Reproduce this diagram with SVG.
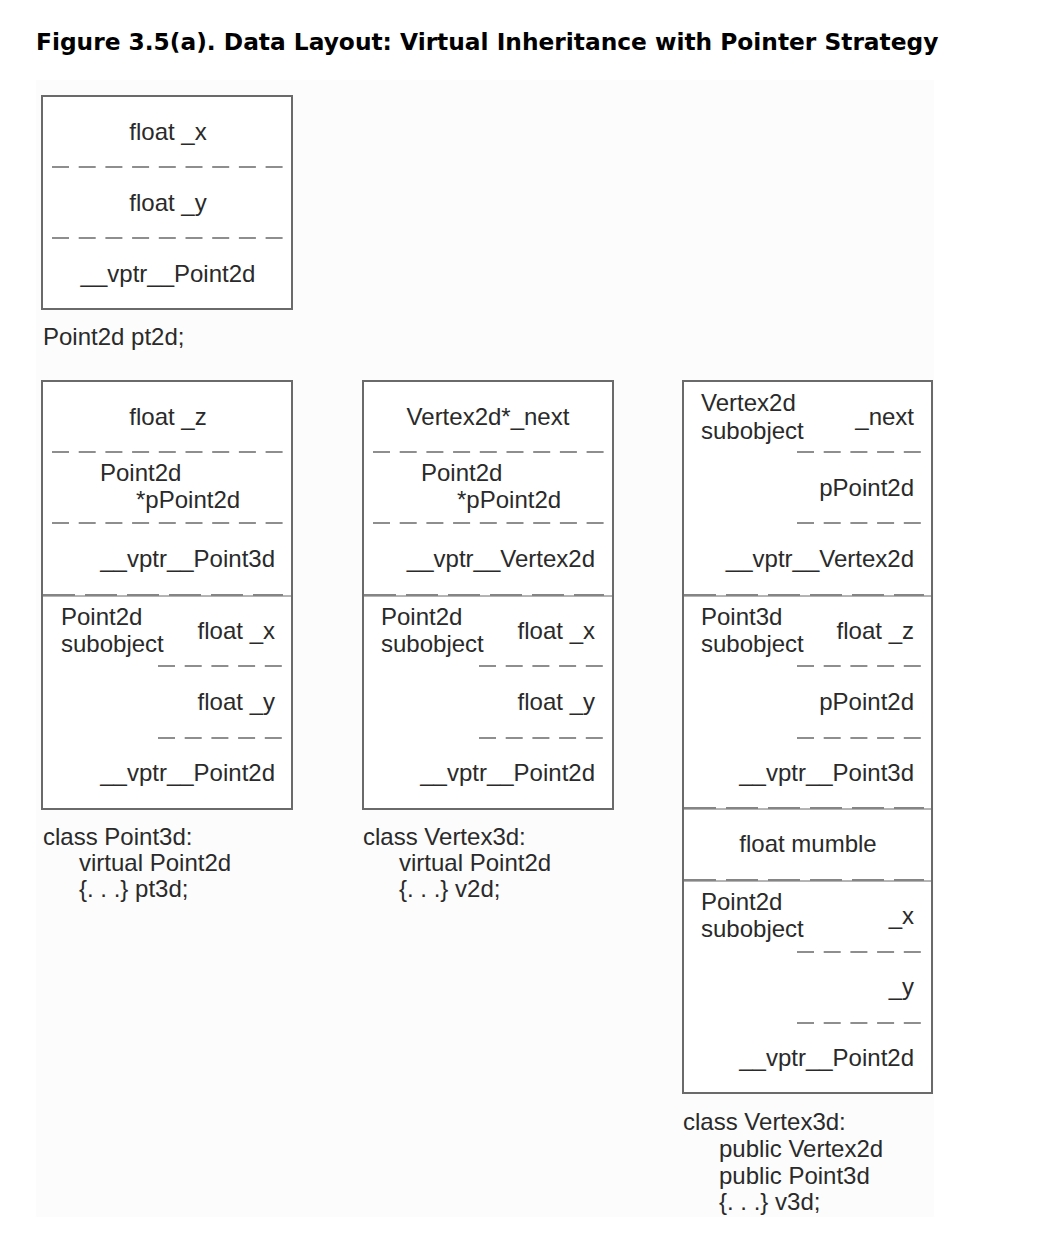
<svg xmlns="http://www.w3.org/2000/svg" width="1044" height="1248" viewBox="0 0 1044 1248">
<style>
.t{font-family:"Liberation Sans",Arial,sans-serif;font-size:24px;fill:#2a2a2a}
.m{text-anchor:middle}
.e{text-anchor:end}
.title{font-family:"DejaVu Sans",Verdana,sans-serif;font-weight:bold;font-size:23.3px;fill:#000}
.box{fill:#fff;stroke:#6a6a6a;stroke-width:2}
.d{stroke:#8e8e8e;stroke-width:2.2;stroke-dasharray:17 9.7;fill:none}
.sep{stroke:#6a6a6a;stroke-width:1;fill:none}
.sd{stroke:#858585;stroke-width:2.2;stroke-dasharray:32 10;fill:none}
</style>
<rect x="0" y="0" width="1044" height="1248" fill="#fff"/>
<rect x="36" y="80" width="898" height="1137" fill="#fcfcfc"/>
<text class="title" x="36" y="50">Figure 3.5(a). Data Layout: Virtual Inheritance with Pointer Strategy</text>

<g id="pt2d">
<rect class="box" x="42" y="96" width="250" height="213"/>
<text class="t m" x="168" y="140">float _x</text>
<line class="d" x1="52" y1="167" x2="284" y2="167"/>
<text class="t m" x="168" y="211">float _y</text>
<line class="d" x1="52" y1="238" x2="284" y2="238"/>
<text class="t m" x="168" y="282">__vptr__Point2d</text>
<text class="t" x="43" y="345">Point2d pt2d;</text>
</g>

<g id="pt3d">
<rect class="box" x="42" y="381" width="250" height="428"/>
<text class="t m" x="168" y="425">float _z</text>
<line class="d" x1="52" y1="452" x2="284" y2="452"/>
<text class="t" x="100" y="481">Point2d</text>
<text class="t" x="136" y="508">*pPoint2d</text>
<line class="d" x1="52" y1="523" x2="284" y2="523"/>
<text class="t e" x="275" y="567">__vptr__Point3d</text>
<line class="sep" x1="42" y1="596" x2="292" y2="596"/>
<line class="sd" x1="43" y1="595" x2="283" y2="595"/>
<text class="t" x="61" y="625">Point2d</text>
<text class="t" x="61" y="652">subobject</text>
<text class="t e" x="275" y="639">float _x</text>
<line class="d" x1="158" y1="666" x2="284" y2="666"/>
<text class="t e" x="275" y="710">float _y</text>
<line class="d" x1="158" y1="738" x2="284" y2="738"/>
<text class="t e" x="275" y="781">__vptr__Point2d</text>
<text class="t" x="43" y="845">class Point3d:</text>
<text class="t" x="79" y="871">virtual Point2d</text>
<text class="t" x="79" y="897">{. . .} pt3d;</text>
</g>

<g id="v2d">
<rect class="box" x="363" y="381" width="250" height="428"/>
<text class="t m" x="488" y="425">Vertex2d*_next</text>
<line class="d" x1="373" y1="452" x2="605" y2="452"/>
<text class="t" x="421" y="481">Point2d</text>
<text class="t" x="457" y="508">*pPoint2d</text>
<line class="d" x1="373" y1="523" x2="605" y2="523"/>
<text class="t e" x="595" y="567">__vptr__Vertex2d</text>
<line class="sep" x1="363" y1="596" x2="613" y2="596"/>
<line class="sd" x1="364" y1="595" x2="604" y2="595"/>
<text class="t" x="381" y="625">Point2d</text>
<text class="t" x="381" y="652">subobject</text>
<text class="t e" x="595" y="639">float _x</text>
<line class="d" x1="479" y1="666" x2="605" y2="666"/>
<text class="t e" x="595" y="710">float _y</text>
<line class="d" x1="479" y1="738" x2="605" y2="738"/>
<text class="t e" x="595" y="781">__vptr__Point2d</text>
<text class="t" x="363" y="845">class Vertex3d:</text>
<text class="t" x="399" y="871">virtual Point2d</text>
<text class="t" x="399" y="897">{. . .} v2d;</text>
</g>

<g id="v3d">
<rect class="box" x="683" y="381" width="249" height="712"/>
<text class="t" x="701" y="411">Vertex2d</text>
<text class="t" x="701" y="439">subobject</text>
<text class="t e" x="914" y="425">_next</text>
<line class="d" x1="797" y1="452" x2="923" y2="452"/>
<text class="t e" x="914" y="496">pPoint2d</text>
<line class="d" x1="797" y1="523" x2="923" y2="523"/>
<text class="t e" x="914" y="567">__vptr__Vertex2d</text>
<line class="sep" x1="683" y1="596" x2="932" y2="596"/>
<line class="sd" x1="684" y1="595" x2="924" y2="595"/>
<text class="t" x="701" y="625">Point3d</text>
<text class="t" x="701" y="652">subobject</text>
<text class="t e" x="914" y="639">float _z</text>
<line class="d" x1="797" y1="666" x2="923" y2="666"/>
<text class="t e" x="914" y="710">pPoint2d</text>
<line class="d" x1="797" y1="738" x2="923" y2="738"/>
<text class="t e" x="914" y="781">__vptr__Point3d</text>
<line class="sep" x1="683" y1="809" x2="932" y2="809"/>
<line class="sd" x1="684" y1="808" x2="924" y2="808"/>
<text class="t m" x="808" y="852">float mumble</text>
<line class="sep" x1="683" y1="881" x2="932" y2="881"/>
<line class="sd" x1="684" y1="880" x2="924" y2="880"/>
<text class="t" x="701" y="910">Point2d</text>
<text class="t" x="701" y="937">subobject</text>
<text class="t e" x="914" y="924">_x</text>
<line class="d" x1="797" y1="952" x2="923" y2="952"/>
<text class="t e" x="914" y="995">_y</text>
<line class="d" x1="797" y1="1023" x2="923" y2="1023"/>
<text class="t e" x="914" y="1066">__vptr__Point2d</text>
<text class="t" x="683" y="1130">class Vertex3d:</text>
<text class="t" x="719" y="1157">public Vertex2d</text>
<text class="t" x="719" y="1184">public Point3d</text>
<text class="t" x="719" y="1210">{. . .} v3d;</text>
</g>
<g id="connectors"></g>
</svg>
